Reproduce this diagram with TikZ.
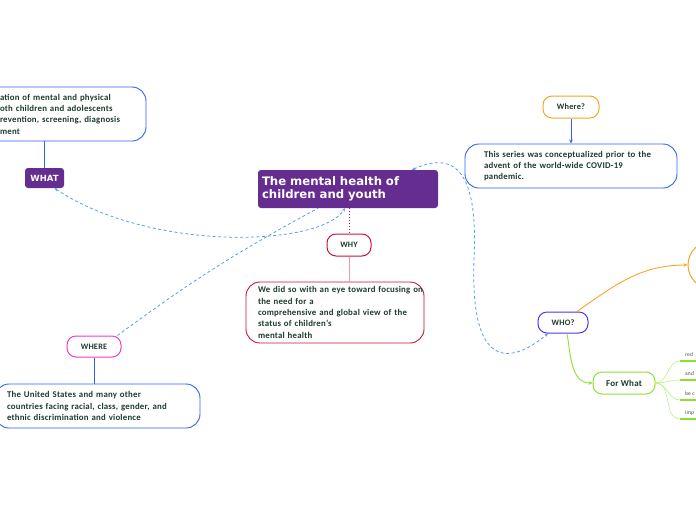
\documentclass[tikz,border=0pt]{standalone}
\usepackage{fontspec}
\setmainfont{Carlito}[LetterSpace=2.5]
\newfontfamily\headfont{DejaVu Sans}
\usetikzlibrary{arrows.meta,positioning}
\definecolor{topicpurple}{HTML}{662D91}
\definecolor{wred}{HTML}{C8143C}
\definecolor{wpink}{HTML}{E99AAE}
\definecolor{wmagenta}{HTML}{F23ACB}
\definecolor{worange}{HTML}{F5A623}
\definecolor{wblue}{HTML}{2E62F5}
\definecolor{wwho}{HTML}{4A34F0}
\definecolor{wgreen}{HTML}{8BE22E}
\definecolor{wlight}{HTML}{BDF07F}
\definecolor{relblue}{HTML}{5B9FE8}
\definecolor{txtgreen}{HTML}{1C3C2C}

\begin{document}
\begin{tikzpicture}[x=1pt, y=-1pt,
  tip/.style = {-{Stealth[length=4pt,width=3.5pt]}},
  both/.style = {{Stealth[length=3.5pt,width=3pt]}-{Stealth[length=3.5pt,width=3pt]}},
  rel/.style = {draw=relblue, dash pattern=on 3pt off 2.5pt, line width=0.8pt},
  tag/.style = {draw=#1, line width=1pt, fill=white, rounded corners=9pt, minimum height=22pt, inner xsep=4pt, font=\bfseries\fontsize{8.3}{10}\selectfont, text=txtgreen},
  note/.style = {draw=#1, line width=0.9pt, fill=white, rounded corners=14pt, align=left, inner ysep=2pt, font=\bfseries\fontsize{8.8}{11.3}\selectfont, text=txtgreen},
  box/.style = {fill=topicpurple, rounded corners=3pt, text=white}]
\useasboundingbox (0,0) rectangle (696,520);
\clip (0,0) rectangle (696,520);

% topics
\node[box, minimum width=180pt, minimum height=38pt, text width=172pt, inner xsep=4pt, align=left, font=\headfont\bfseries\fontsize{11.7}{13}\selectfont] (1) at (348,189) {The mental health of\\children and youth};
\node[tag=wred, minimum width=44pt] (2) at (349,245) {WHY};
\node[note=wred, text width=154pt, inner xsep=12pt, minimum height=61pt] (3) at (335,312.5) {\mbox{We did so with an eye toward focusing on}\\the need for a\\\mbox{comprehensive and global view of the}\\status of children's\\mental health};
\node[box, minimum width=39pt, minimum height=20pt, inner sep=1pt, font=\headfont\bfseries\fontsize{8.5}{10}\selectfont] (4) at (44.5,178) {WHAT};
\node[note=wblue, text width=123pt, inner xsep=23pt, minimum height=54pt] (5) at (61.5,114) {ation of mental and physical\\oth children and adolescents\\revention, screening, diagnosis\\ment};
\node[tag=wmagenta, minimum width=54pt, minimum height=21pt] (6) at (94,346.5) {WHERE};
\node[note=wblue, text width=181pt, inner xsep=12pt, minimum height=44pt] (7) at (97.5,406) {The United States and many other\\countries facing racial, class, gender, and\\ethnic discrimination and violence};
\node[tag=worange, minimum width=56pt] (8) at (571,107) {Where?};
\node[note=wblue, text width=174pt, inner xsep=19pt, minimum height=44pt] (9) at (571,166) {This series was conceptualized prior to the\\advent of the world-wide COVID-19\\pandemic.};
\node[tag=wwho, minimum width=50pt, minimum height=21pt] (10) at (563,322.5) {WHO?};
\node[tag=wgreen, minimum width=62pt, font=\bfseries\fontsize{9}{10}\selectfont] (11) at (624,383) {For What};
\node[draw=worange, line width=1pt, fill=white, rounded corners=24pt, minimum width=80pt, minimum height=48pt] (12) at (728,265) {};

% branches of For What
\foreach \y/\t [count=\i] in {361/red, 380/and, 400/be c, 419/imp} {
  \coordinate (b\i) at (680,\y);
  \coordinate (e\i) at (700,\y);
  \draw[wlight, line width=0.6pt] (11.east) to[out=0,in=180] (b\i);
  \draw[wgreen, line width=1.3pt] (b\i) -- (e\i);
  \node[anchor=base west, inner sep=0pt, text=black!70, font=\fontsize{5.5}{6}\selectfont] (t\i) at (685,\y-5) {\t};
}

% connectors
\draw[wred, dotted, line width=1pt] (2.north |- 1.south) -- (2.north);
\draw[wpink, line width=0.9pt] (2.south) -- (2.south |- 3.north);
\draw[wblue, line width=0.9pt] (4.north) -- (4.north |- 5.south);
\draw[wblue, line width=0.9pt] (6.south) -- (6.south |- 7.north);
\draw[wblue, line width=0.9pt, tip] (8.south) -- (9.north);
\draw[worange, line width=0.9pt, tip] ([xshift=14pt]10.north) to[out=35,in=180] (12.west);
\draw[wgreen, line width=0.9pt, tip] ([xshift=4pt]10.south) to[out=-80,in=180] (11.west);

% relations
\draw[rel, both] ([xshift=10pt]4.south) .. controls (150,252) and (320,247) .. ([xshift=-3pt]1.south);
\draw[rel] ([xshift=-4pt]6.north east) to[bend left=4] ([xshift=-30pt]1.south);
\draw[rel, both] ([xshift=64pt]1.north) .. controls (460,148) and (478,180) .. (474,260) .. controls (470,370) and (510,365) .. ([xshift=-15pt]10.south);
\end{tikzpicture}
\end{document}
